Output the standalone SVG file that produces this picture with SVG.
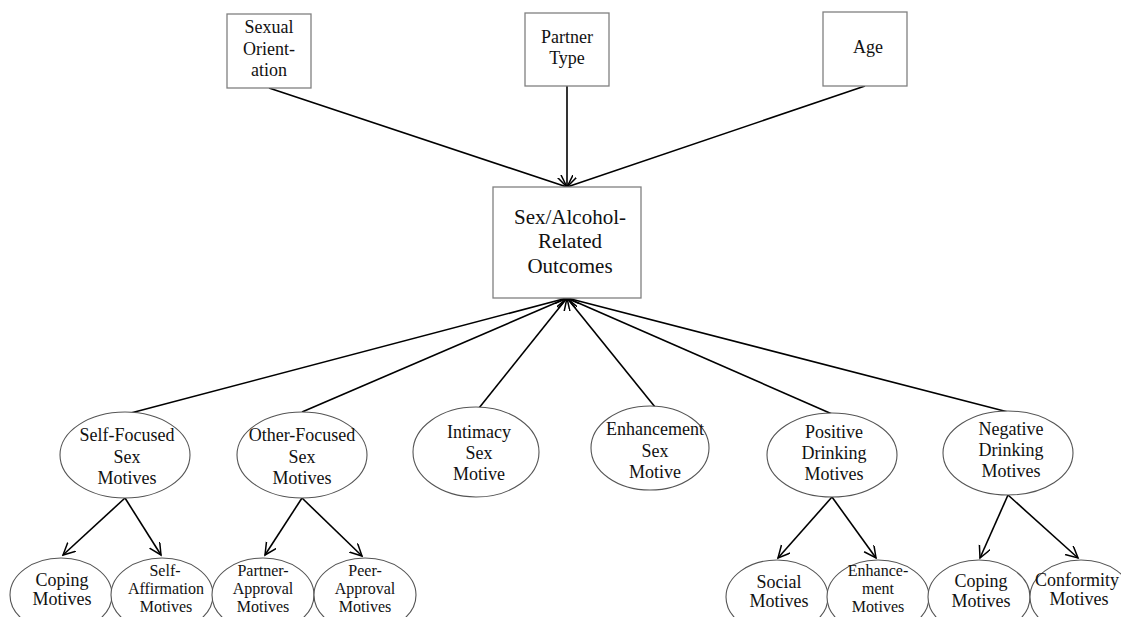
<svg xmlns="http://www.w3.org/2000/svg" width="1121" height="617" viewBox="0 0 1121 617">
<defs>
<marker id="arr" markerUnits="userSpaceOnUse" markerWidth="14" markerHeight="14" refX="12" refY="6" orient="auto">
<path d="M0,0 L12,6 L0,12" fill="none" stroke="#000" stroke-width="1.5"/>
</marker>
<style>
.box{fill:#fff;stroke:#808080;stroke-width:1.3}
.ell{fill:#fff;stroke:#555;stroke-width:1.1}
.t{font-family:"Liberation Serif","Times New Roman",serif;font-size:18px;fill:#111;text-anchor:middle}
.ts{font-family:"Liberation Serif","Times New Roman",serif;font-size:16px;fill:#111;text-anchor:middle}
.tb{font-family:"Liberation Serif","Times New Roman",serif;font-size:21px;fill:#111;text-anchor:middle}
.c{stroke:#000;stroke-width:1.6;fill:none;marker-end:url(#arr)}
</style>
</defs>
<rect width="1121" height="617" fill="#fff"/>
<g id="connectors">
<line class="c" x1="269" y1="88" x2="567" y2="187"/>
<line class="c" x1="567" y1="86" x2="567" y2="187"/>
<line class="c" x1="865" y1="86" x2="567" y2="187"/>
<line class="c" x1="127" y1="414" x2="567" y2="298"/>
<line class="c" x1="302" y1="412" x2="567" y2="298"/>
<line class="c" x1="479" y1="408" x2="567" y2="298"/>
<line class="c" x1="655" y1="407" x2="567" y2="298"/>
<line class="c" x1="832" y1="414" x2="567" y2="298"/>
<line class="c" x1="1008" y1="412" x2="567" y2="298"/>
<line class="c" x1="125" y1="498" x2="63" y2="555"/>
<line class="c" x1="125" y1="498" x2="161" y2="555"/>
<line class="c" x1="302" y1="498" x2="265" y2="555"/>
<line class="c" x1="302" y1="498" x2="362" y2="556"/>
<line class="c" x1="832" y1="497" x2="778" y2="558"/>
<line class="c" x1="832" y1="497" x2="876" y2="558"/>
<line class="c" x1="1008" y1="495" x2="980" y2="558"/>
<line class="c" x1="1008" y1="495" x2="1078" y2="558"/>
</g>
<g id="sexual-orientation">
<rect class="box" x="227" y="14" width="84" height="74"/>
<text class="t" x="269" y="33">Sexual</text>
<text class="t" x="269" y="55">Orient-</text>
<text class="t" x="269" y="76">ation</text>
</g>
<g id="partner-type">
<rect class="box" x="525" y="13" width="84" height="73"/>
<text class="t" x="567" y="43">Partner</text>
<text class="t" x="567" y="64">Type</text>
</g>
<g id="age">
<rect class="box" x="823" y="12" width="84" height="74"/>
<text class="t" x="868" y="53">Age</text>
</g>
<g id="outcomes">
<rect class="box" x="493" y="187" width="148" height="111"/>
<text class="tb" x="570" y="224">Sex/Alcohol-</text>
<text class="tb" x="570" y="248">Related</text>
<text class="tb" x="570" y="273">Outcomes</text>
</g>
<g id="self-focused">
<ellipse class="ell" cx="125" cy="455" rx="65" ry="43"/>
<text class="t" x="127" y="441">Self-Focused</text>
<text class="t" x="127" y="463">Sex</text>
<text class="t" x="127" y="484">Motives</text>
</g>
<g id="other-focused">
<ellipse class="ell" cx="302" cy="455" rx="65" ry="43"/>
<text class="t" x="302" y="441">Other-Focused</text>
<text class="t" x="302" y="463">Sex</text>
<text class="t" x="302" y="484">Motives</text>
</g>
<g id="intimacy">
<ellipse class="ell" cx="476" cy="452" rx="63" ry="45"/>
<text class="t" x="479" y="438">Intimacy</text>
<text class="t" x="479" y="459">Sex</text>
<text class="t" x="479" y="480">Motive</text>
</g>
<g id="enhancement-sex">
<ellipse class="ell" cx="650" cy="448" rx="59" ry="42"/>
<text class="t" x="655" y="435">Enhancement</text>
<text class="t" x="655" y="457">Sex</text>
<text class="t" x="655" y="478">Motive</text>
</g>
<g id="positive-drinking">
<ellipse class="ell" cx="832" cy="455" rx="65" ry="42"/>
<text class="t" x="834" y="438">Positive</text>
<text class="t" x="834" y="459">Drinking</text>
<text class="t" x="834" y="480">Motives</text>
</g>
<g id="negative-drinking">
<ellipse class="ell" cx="1008" cy="453" rx="65" ry="42"/>
<text class="t" x="1011" y="435">Negative</text>
<text class="t" x="1011" y="456">Drinking</text>
<text class="t" x="1011" y="477">Motives</text>
</g>
<g id="coping-sex">
<ellipse class="ell" cx="61" cy="595" rx="51" ry="37"/>
<text class="t" x="62" y="586">Coping</text>
<text class="t" x="62" y="605">Motives</text>
</g>
<g id="self-affirmation">
<ellipse class="ell" cx="162" cy="595" rx="51" ry="37"/>
<text class="ts" x="165" y="576">Self-</text>
<text class="ts" x="166" y="594">Affirmation</text>
<text class="ts" x="166" y="612">Motives</text>
</g>
<g id="partner-approval">
<ellipse class="ell" cx="263" cy="595" rx="51" ry="37"/>
<text class="ts" x="263" y="576">Partner-</text>
<text class="ts" x="263" y="594">Approval</text>
<text class="ts" x="263" y="612">Motives</text>
</g>
<g id="peer-approval">
<ellipse class="ell" cx="365" cy="595" rx="51" ry="37"/>
<text class="ts" x="365" y="576">Peer-</text>
<text class="ts" x="365" y="594">Approval</text>
<text class="ts" x="365" y="612">Motives</text>
</g>
<g id="social">
<ellipse class="ell" cx="777" cy="597" rx="51" ry="37"/>
<text class="t" x="779" y="588">Social</text>
<text class="t" x="779" y="607">Motives</text>
</g>
<g id="enhancement-drinking">
<ellipse class="ell" cx="878" cy="597" rx="51" ry="37"/>
<text class="ts" x="878" y="576">Enhance-</text>
<text class="ts" x="878" y="594">ment</text>
<text class="ts" x="878" y="612">Motives</text>
</g>
<g id="coping-drinking">
<ellipse class="ell" cx="979" cy="597" rx="51" ry="37"/>
<text class="t" x="981" y="587">Coping</text>
<text class="t" x="981" y="607">Motives</text>
</g>
<g id="conformity">
<ellipse class="ell" cx="1081" cy="597" rx="51" ry="37"/>
<text class="t" x="1077" y="586">Conformity</text>
<text class="t" x="1079" y="605">Motives</text>
</g>
</svg>
